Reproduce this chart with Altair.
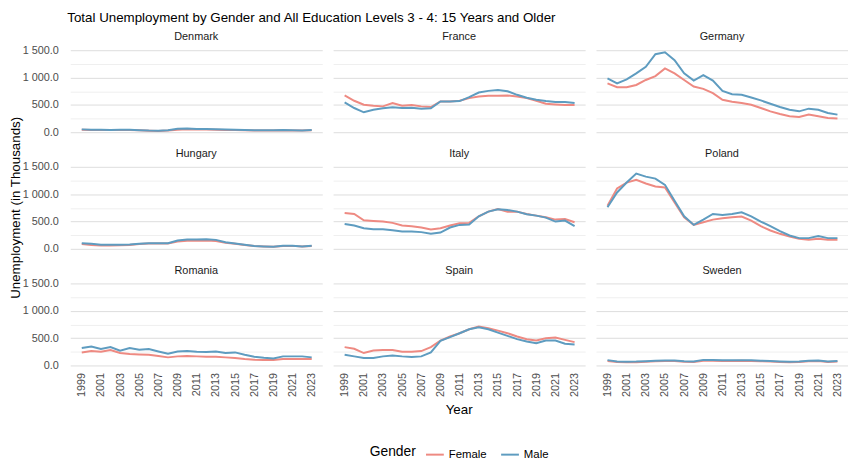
import altair as alt
import pandas as pd

years = list(range(1999, 2024))
countries = ["Denmark", "France", "Germany", "Hungary", "Italy", "Poland", "Romania", "Spain", "Sweden"]

female = {
    "Denmark": [42, 40, 38, 36, 38, 38, 32, 26, 22, 30, 45, 50, 48, 46, 44, 40, 36, 32, 30, 28, 30, 33, 30, 28, 32],
    "France": [672, 575, 502, 484, 472, 532, 484, 496, 472, 460, 563, 563, 575, 623, 653, 666, 666, 672, 653, 623, 575, 520, 508, 496, 496],
    "Germany": [895, 823, 823, 865, 956, 1028, 1168, 1077, 956, 835, 793, 714, 593, 557, 532, 502, 442, 381, 333, 290, 278, 321, 290, 260, 248],
    "Hungary": [85, 70, 60, 58, 65, 70, 85, 95, 95, 95, 130, 145, 148, 150, 140, 110, 90, 68, 48, 40, 35, 50, 52, 40, 48],
    "Italy": [655, 637, 522, 510, 498, 474, 425, 413, 389, 352, 376, 425, 467, 474, 595, 680, 728, 680, 680, 637, 607, 577, 534, 546, 486],
    "Poland": [789, 1105, 1214, 1263, 1196, 1141, 1123, 850, 577, 437, 486, 534, 558, 577, 589, 516, 413, 334, 273, 225, 182, 164, 182, 164, 164],
    "Romania": [237, 261, 249, 279, 225, 206, 200, 194, 170, 146, 164, 170, 164, 158, 158, 146, 134, 115, 103, 97, 97, 115, 115, 115, 115],
    "Spain": [334, 304, 225, 273, 279, 279, 249, 249, 261, 334, 455, 528, 589, 662, 710, 680, 637, 589, 528, 480, 455, 498, 510, 467, 425],
    "Sweden": [80, 60, 55, 58, 65, 75, 80, 78, 65, 60, 85, 85, 80, 80, 82, 80, 75, 70, 62, 55, 60, 75, 78, 62, 70],
}
male = {
    "Denmark": [50, 45, 42, 40, 45, 42, 35, 28, 25, 35, 60, 65, 58, 55, 52, 48, 42, 38, 35, 32, 35, 38, 35, 30, 38],
    "France": [545, 442, 363, 411, 436, 454, 442, 448, 430, 436, 563, 563, 569, 641, 726, 756, 774, 750, 684, 629, 593, 569, 551, 551, 532],
    "Germany": [986, 895, 968, 1077, 1198, 1428, 1464, 1319, 1077, 944, 1047, 944, 756, 696, 684, 635, 581, 520, 460, 411, 381, 430, 411, 351, 321],
    "Hungary": [102, 90, 72, 72, 72, 78, 90, 102, 102, 102, 150, 168, 168, 174, 162, 120, 96, 72, 48, 42, 36, 54, 54, 42, 54],
    "Italy": [455, 425, 376, 358, 358, 340, 316, 316, 304, 273, 297, 389, 437, 443, 595, 680, 722, 710, 680, 631, 607, 571, 498, 516, 413],
    "Poland": [759, 1032, 1214, 1378, 1323, 1287, 1172, 880, 595, 437, 534, 637, 619, 637, 668, 595, 498, 413, 322, 243, 194, 194, 231, 194, 194],
    "Romania": [316, 346, 298, 334, 267, 316, 285, 298, 255, 213, 255, 261, 249, 243, 255, 225, 237, 194, 158, 140, 127, 164, 164, 164, 146],
    "Spain": [194, 164, 134, 134, 164, 182, 164, 152, 164, 237, 449, 516, 589, 662, 698, 662, 601, 540, 480, 437, 407, 455, 455, 395, 383],
    "Sweden": [95, 70, 65, 68, 75, 85, 90, 88, 75, 70, 100, 98, 92, 92, 95, 92, 85, 80, 72, 65, 70, 85, 88, 72, 80],
}

rows = []
for c in countries:
    for i, y in enumerate(years):
        rows.append({"Country": c, "Year": y, "Gender": "Female", "Value": female[c][i]})
        rows.append({"Country": c, "Year": y, "Gender": "Male", "Value": male[c][i]})
df = pd.DataFrame(rows)

FONT = "Liberation Sans"
tick_years = list(range(1999, 2024, 2))
W, H = 255, 91

lines = alt.Chart().mark_line(strokeWidth=2).encode(
    x=alt.X("Year:Q",
            scale=alt.Scale(domain=[1997.8, 2024.1], nice=False, zero=False),
            axis=alt.Axis(values=tick_years, format="d", labelAngle=270, title="",
                          grid=False, domain=False, ticks=False, labelFontSize=11,
                          labelColor="#4d4d4d", labelPadding=3, labelBaseline="middle",
                          labelAlign="right")),
    y=alt.Y("Value:Q",
            scale=alt.Scale(domain=[-75, 1575], nice=False),
            axis=alt.Axis(values=[0, 250, 500, 750, 1000, 1250, 1500],
                          labelExpr="datum.value % 500 === 0 ? replace(format(datum.value, ',.1f'), ',', ' ') : ''",
                          title="", domain=False, ticks=False,
                          gridColor={"condition": {"test": "datum.value % 500 === 0", "value": "#dcdcdc"}, "value": "#efefef"},
                          labelFontSize=11, labelColor="#4d4d4d", labelPadding=12)),
    color=alt.Color("Gender:N",
                    scale=alt.Scale(domain=["Female", "Male"], range=["#EE8A82", "#5E9CC0"]),
                    legend=alt.Legend(orient="none", legendX=303, legendY=403,
                                      direction="horizontal", titleOrient="left",
                                      symbolType="stroke", symbolStrokeWidth=2, symbolSize=324,
                                      titleFontSize=14, titleFontWeight="normal", labelFontSize=11.5,
                                      titleColor="#000000", labelColor="#000000", titlePadding=9,
                                      columnPadding=10)),
)

strip = alt.Chart().transform_filter(
    "datum.Year == 1999 && datum.Gender == 'Female'"
).mark_text(fontSize=11, color="#1a1a1a", font=FONT, baseline="middle").encode(
    x=alt.value(W / 2), y=alt.value(-9), text="Country:N"
)

ytitle = alt.Chart().transform_filter(
    "datum.Country == 'Hungary' && datum.Year == 1999 && datum.Gender == 'Female'"
).mark_text(fontSize=13.5, color="#000000", font=FONT, angle=270, baseline="middle").encode(
    x=alt.value(-55), y=alt.value(H / 2), text=alt.value("Unemployment (in Thousands)")
)

xtitle = alt.Chart().transform_filter(
    "datum.Country == 'Spain' && datum.Year == 1999 && datum.Gender == 'Female'"
).mark_text(fontSize=13.5, color="#000000", font=FONT, baseline="middle").encode(
    x=alt.value(W / 2), y=alt.value(H + 41), text=alt.value("Year")
)

chart = alt.layer(lines, strip, ytitle, xtitle, data=df).properties(width=W, height=H).facet(
    facet=alt.Facet("Country:N", sort=countries,
                    header=alt.Header(title=None, labelExpr="''", labelPadding=0, labelFontSize=1)),
    columns=3,
    spacing={"row": 27, "column": 11},
    bounds="flush",
).properties(
    title=alt.Title("Total Unemployment by Gender and All Education Levels 3 - 4: 15 Years and Older",
                    anchor="start", fontSize=13.5, fontWeight="normal", font=FONT, color="#000000",
                    offset=6, dx=59),
    padding={"left": 0, "top": 0, "right": 0, "bottom": 0},
).configure(font=FONT).configure_view(stroke=None)

chart.save("out.html", embed_options={"renderer": "svg", "actions": False})
